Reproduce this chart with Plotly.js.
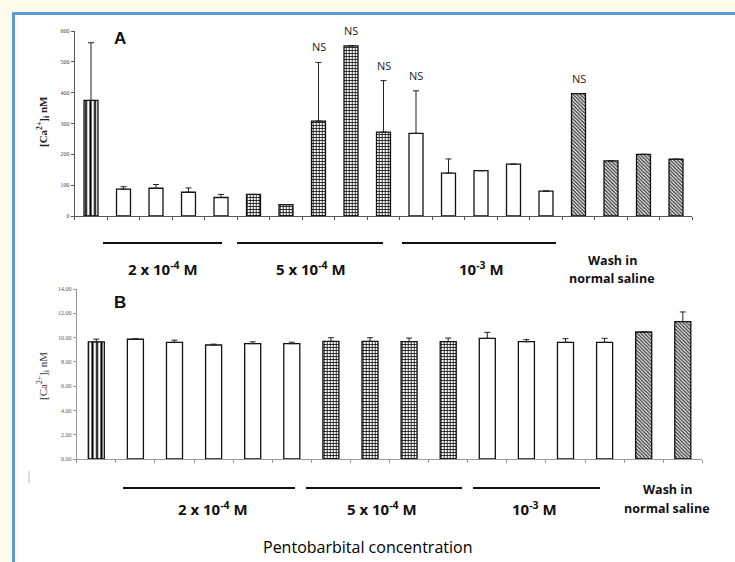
<!DOCTYPE html>
<html>
<head>
<meta charset="utf-8">
<script src="https://cdn.plot.ly/plotly-3.0.1.min.js"></script>
<style>
  html, body { margin: 0; padding: 0; background: #fdfbea; }
  #chart { width: 735px; height: 562px; }
</style>
</head>
<body>
<div id="chart"></div>
<script>
// Panel A: [Ca2+]i (nM), one bar per recording
const categoriesA = [
  "Control",
  "2e-4 M a", "2e-4 M b", "2e-4 M c", "2e-4 M d",
  "5e-4 M a", "5e-4 M b", "5e-4 M c", "5e-4 M d", "5e-4 M e",
  "1e-3 M a", "1e-3 M b", "1e-3 M c", "1e-3 M d", "1e-3 M e",
  "Wash a", "Wash b", "Wash c", "Wash d"
];
const groupsA = [
  "control",
  "low", "low", "low", "low",
  "mid", "mid", "mid", "mid", "mid",
  "high", "high", "high", "high", "high",
  "wash", "wash", "wash", "wash"
];
const valuesA = [375, 87, 90, 77, 60, 70, 37, 308, 552, 272, 268, 139, 147, 168, 81, 397, 179, 200, 184];
const errorsA = [187, 8, 12, 14, 10, null, null, 190, null, 167, 138, 46, null, null, null, null, null, null, null];
const nsBarsA = ["5e-4 M c", "5e-4 M d", "5e-4 M e", "1e-3 M a", "Wash a"];
const yTicksA = [0, 100, 200, 300, 400, 500, 600];

// Panel B: [Ca2+]i (nM)
const categoriesB = [
  "Control",
  "2e-4 M a", "2e-4 M b", "2e-4 M c", "2e-4 M d", "2e-4 M e",
  "5e-4 M a", "5e-4 M b", "5e-4 M c", "5e-4 M d",
  "1e-3 M a", "1e-3 M b", "1e-3 M c", "1e-3 M d",
  "Wash a", "Wash b"
];
const groupsB = [
  "control",
  "low", "low", "low", "low", "low",
  "mid", "mid", "mid", "mid",
  "high", "high", "high", "high",
  "wash", "wash"
];
const valuesB = [9.65, 9.86, 9.61, 9.39, 9.5, 9.5, 9.69, 9.69, 9.66, 9.66, 9.94, 9.66, 9.61, 9.61, 10.46, 11.31];
const errorsB = [0.22, 0.05, 0.18, 0.07, 0.15, 0.12, 0.3, 0.3, 0.3, 0.3, 0.49, 0.17, 0.3, 0.33, null, 0.8];
const yTicksB = [0, 2, 4, 6, 8, 10, 12, 14];

// Concentration labels
const concLabels = ["2 x 10<sup>-4</sup> M", "5 x 10<sup>-4</sup> M", "10<sup>-3</sup> M"];
const washLabel = ["Wash in", "normal saline"];
const xTitle = "Pentobarbital concentration";
const yTitle = "[Ca<sup>2+</sup>]<sub>i</sub> nM";

// Fill style per treatment group
const fillStyle = {
  control: { shape: "|", size: 4.5, solidity: 0.45, fg: "#000000" },
  low:     { shape: "",  size: 4,   solidity: 0.3,  fg: "#000000" },
  mid:     { shape: "+", size: 3,   solidity: 0.5,  fg: "#1a1a1a" },
  high:    { shape: "",  size: 4,   solidity: 0.3,  fg: "#000000" },
  wash:    { shape: "\\", size: 2.5, solidity: 0.55, fg: "#333333" }
};

const W = 735, H = 562;
const px = x => x / W;
const py = y => 1 - y / H;

function barTrace(cats, groups, vals, errs, xa, ya, width) {
  return {
    type: "bar",
    x: cats,
    y: vals,
    xaxis: xa,
    yaxis: ya,
    width: width,
    marker: {
      color: "#ffffff",
      line: { color: "#111111", width: 1.3 },
      pattern: {
        shape: groups.map(g => fillStyle[g].shape),
        size: groups.map(g => fillStyle[g].size),
        solidity: groups.map(g => fillStyle[g].solidity),
        fgcolor: groups.map(g => fillStyle[g].fg),
        bgcolor: "#ffffff",
        fillmode: "replace"
      }
    },
    error_y: {
      type: "data",
      symmetric: false,
      array: errs,
      arrayminus: errs.map(() => 0),
      color: "#222222",
      thickness: 1,
      width: 3
    },
    hoverinfo: "x+y"
  };
}

const traces = [
  barTrace(categoriesA, groupsA, valuesA, errorsA, "x", "y", 0.43),
  barTrace(categoriesB, groupsB, valuesB, errorsB, "x2", "y2", 0.41)
];

const annotations = [];
const serif = "Liberation Serif, Times New Roman, serif";
const sans = "Open Sans, Noto Sans, sans-serif";

// text placed on the page, centred on (x, y) in pixels
function pageText(x, y, text, font, extra) {
  annotations.push(Object.assign({
    xref: "paper", yref: "paper", x: px(x), y: py(y),
    xanchor: "center", yanchor: "middle",
    text: text, showarrow: false, font: font
  }, extra || {}));
}

// Panel letters
pageText(120, 38, "<b>A</b>", { family: "Liberation Sans, Arial", size: 17, color: "#111" });
pageText(120, 302, "<b>B</b>", { family: "Liberation Sans, Arial", size: 17, color: "#111" });

// y axis titles
pageText(43, 122, "<b>" + yTitle + "</b>", { family: serif, size: 11, color: "#222" }, { textangle: -90 });
pageText(43, 376, yTitle, { family: serif, size: 11, color: "#333" }, { textangle: -90 });

// NS marks above bars
nsBarsA.forEach(c => {
  const i = categoriesA.indexOf(c);
  const top = valuesA[i] + (errorsA[i] || 0);
  annotations.push({ xref: "x", yref: "y", x: c, y: top, xanchor: "center", yanchor: "bottom", yshift: 6,
    text: "NS", showarrow: false, font: { family: sans, size: 11, color: "#222" } });
});

const boldFont = { family: sans, size: 15, color: "#111" };
const washFont = { family: sans, size: 12.5, color: "#111" };

// Concentration group labels, panel A
const labelPosA = [163, 311, 481];
concLabels.forEach((t, k) => pageText(labelPosA[k], 268, "<b>" + t + "</b>", boldFont));
pageText(612, 260, "<b>" + washLabel[0] + "</b>", washFont);
pageText(612, 278, "<b>" + washLabel[1] + "</b>", washFont);

// Concentration group labels, panel B
const labelPosB = [213, 382, 534];
concLabels.forEach((t, k) => pageText(labelPosB[k], 508, "<b>" + t + "</b>", boldFont));
pageText(667, 489, "<b>" + washLabel[0] + "</b>", washFont);
pageText(667, 508, "<b>" + washLabel[1] + "</b>", washFont);

// Common x axis title
pageText(367, 547, xTitle, { family: sans, size: 16, color: "#000" });

const shapes = [
  // framed page
  { type: "rect", xref: "paper", yref: "paper", x0: px(13.5), x1: px(760), y0: py(590), y1: py(13.5),
    fillcolor: "#ffffff", line: { color: "#5b9bd5", width: 3 }, layer: "below" },
  // faint mark at left of panel B
  { type: "line", xref: "paper", yref: "paper", x0: px(29), x1: px(29), y0: py(471), y1: py(483),
    line: { color: "#bbbbbb", width: 1 } }
];
// concentration bracket lines
[[103, 222], [237, 383], [402, 556]].forEach(([a, b]) => shapes.push({ type: "line", xref: "paper", yref: "paper",
  x0: px(a), x1: px(b), y0: py(243), y1: py(243), line: { color: "#111", width: 2 } }));
[[123, 295], [306, 462], [473, 600]].forEach(([a, b]) => shapes.push({ type: "line", xref: "paper", yref: "paper",
  x0: px(a), x1: px(b), y0: py(488), y1: py(488), line: { color: "#111", width: 2 } }));

const layout = {
  width: W,
  height: H,
  margin: { l: 0, r: 0, t: 0, b: 0 },
  paper_bgcolor: "#fdfbea",
  plot_bgcolor: "rgba(0,0,0,0)",
  showlegend: false,
  xaxis: {
    domain: [px(74.75), px(692.25)],
    anchor: "y",
    type: "category",
    range: [-0.5, 18.5],
    showticklabels: false,
    showgrid: false,
    zeroline: false,
    showline: true,
    linecolor: "#555",
    linewidth: 1,
    ticks: "outside",
    tickson: "boundaries",
    ticklen: 3,
    tickcolor: "#555",
    fixedrange: true
  },
  yaxis: {
    domain: [py(216), py(31)],
    anchor: "x",
    range: [0, 600],
    tickvals: yTicksA,
    ticktext: yTicksA.map(String),
    showgrid: false,
    zeroline: false,
    showline: true,
    linecolor: "#555",
    linewidth: 1,
    ticks: "outside",
    ticklen: 3,
    tickcolor: "#555",
    tickfont: { family: serif, size: 6, color: "#444" },
    fixedrange: true
  },
  xaxis2: {
    domain: [px(76.75), px(702.35)],
    anchor: "y2",
    type: "category",
    range: [-0.5, 15.5],
    showticklabels: false,
    showgrid: false,
    zeroline: false,
    showline: true,
    linecolor: "#999",
    linewidth: 1,
    ticks: "outside",
    tickson: "boundaries",
    ticklen: 3,
    tickcolor: "#999",
    fixedrange: true
  },
  yaxis2: {
    domain: [py(459), py(289)],
    anchor: "x2",
    range: [0, 14],
    tickvals: yTicksB,
    ticktext: yTicksB.map(v => v.toFixed(2)),
    showgrid: false,
    zeroline: false,
    showline: true,
    linecolor: "#999",
    linewidth: 1,
    ticks: "outside",
    ticklen: 3,
    tickcolor: "#999",
    tickfont: { family: serif, size: 6, color: "#555" },
    fixedrange: true
  },
  annotations: annotations,
  shapes: shapes
};

Plotly.newPlot("chart", traces, layout, { displayModeBar: false, staticPlot: true });
</script>
</body>
</html>
